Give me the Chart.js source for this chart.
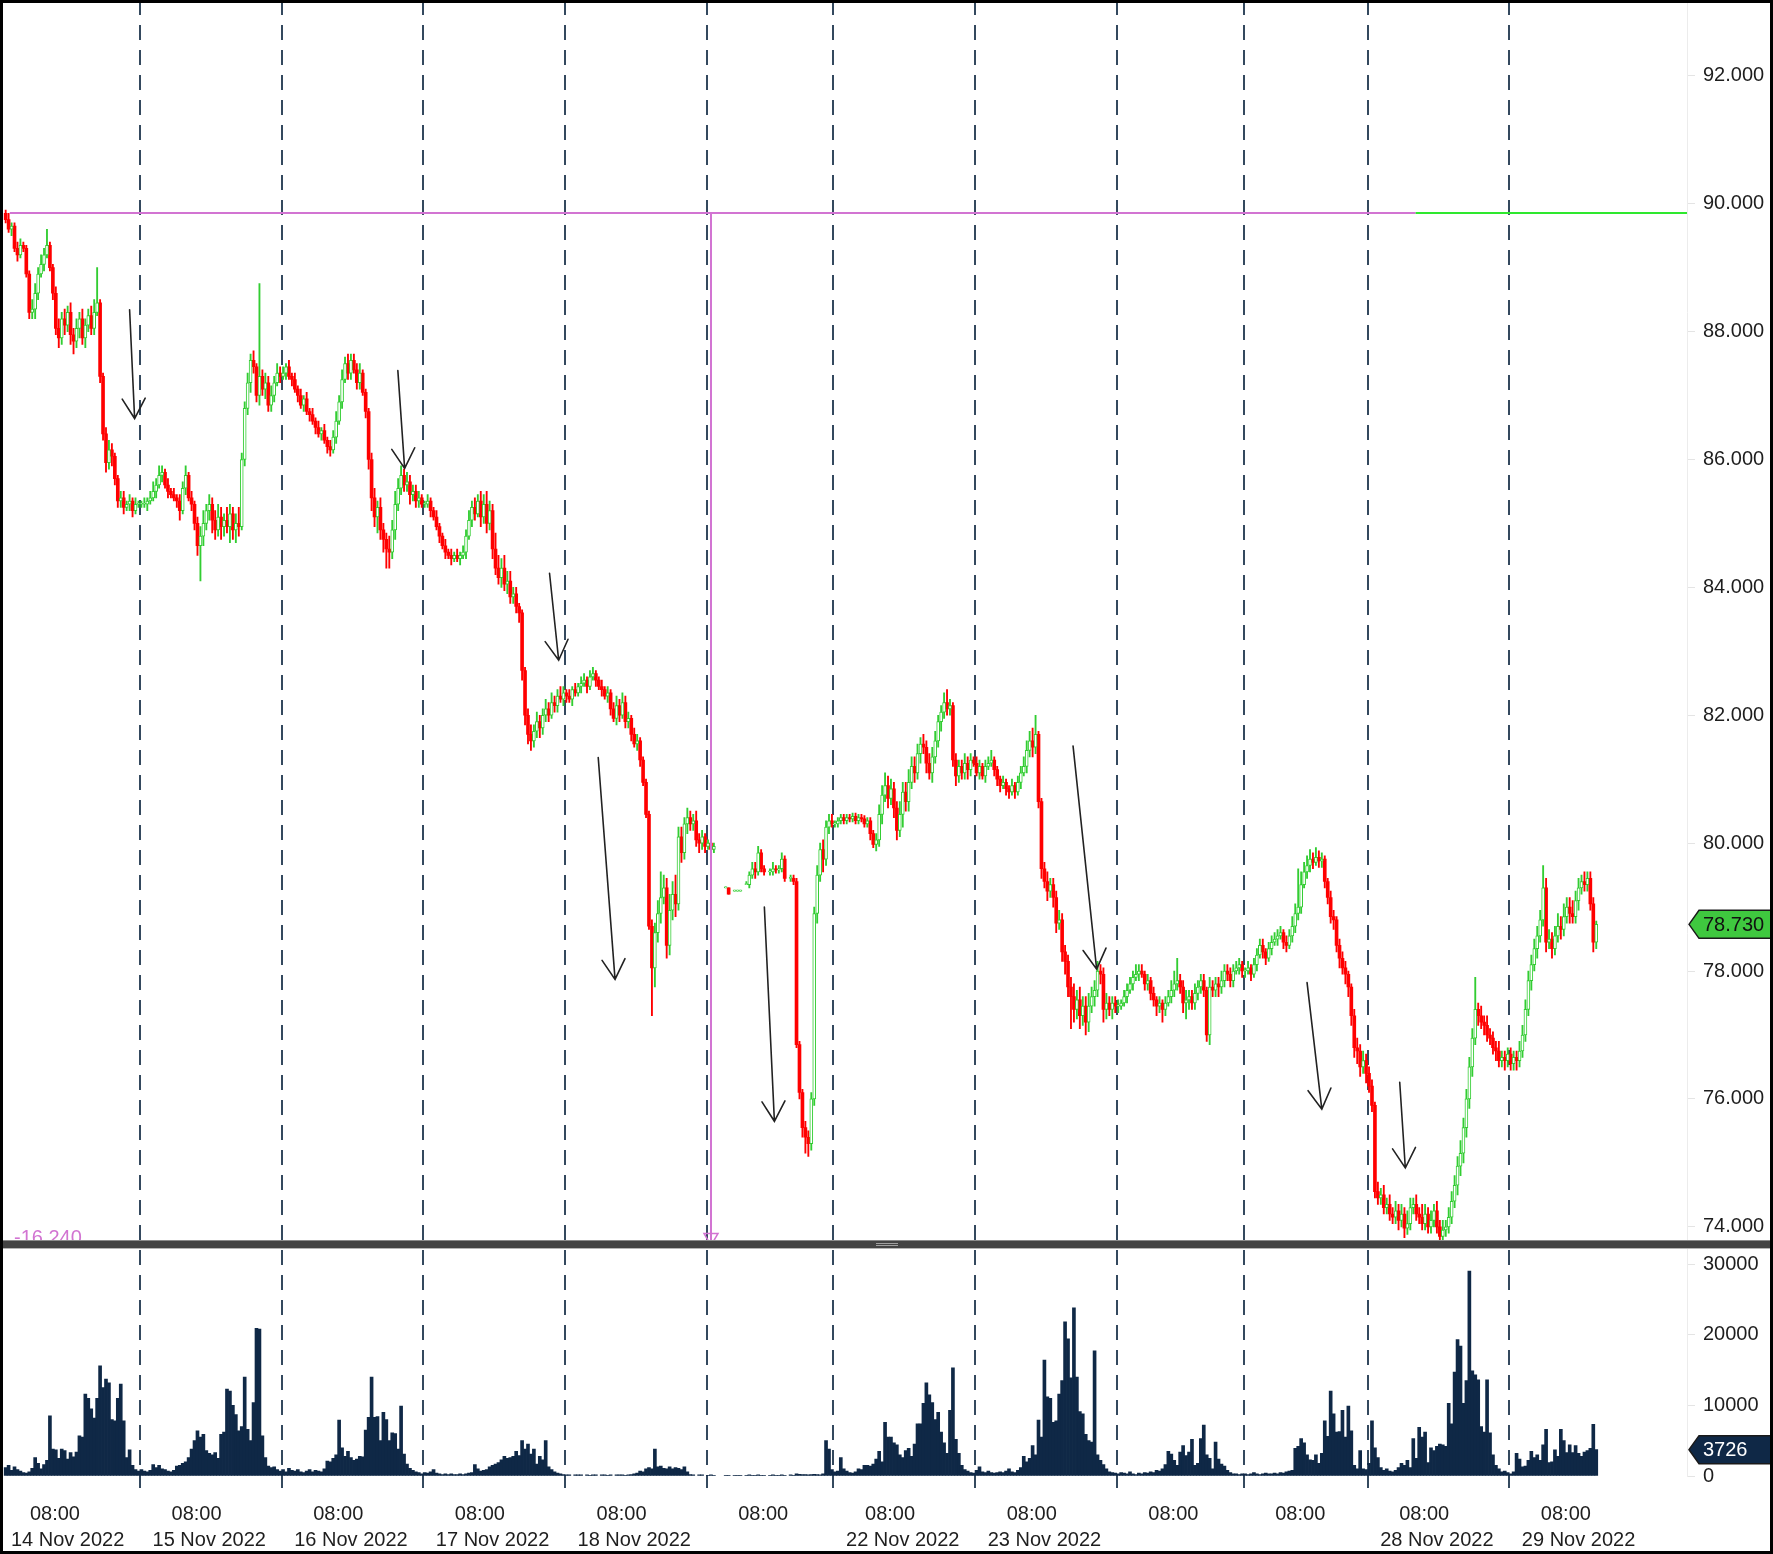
<!DOCTYPE html>
<html>
<head>
<meta charset="utf-8">
<script src="https://cdn.jsdelivr.net/npm/chart.js@4.4.1/dist/chart.umd.min.js"></script>
<style>
html,body{margin:0;padding:0;background:#fff;}
#wrap{width:1773px;height:1554px;position:relative;overflow:hidden;}
canvas{display:block;}
</style>
</head>
<body>
<div id="wrap"><canvas id="c" width="1773" height="1554"></canvas></div>
<script>
// ---------------- DATA (30-minute bars) ----------------
const dayBarCounts  = [48, 48, 48, 48, 48, 43, 48, 48, 43, 42, 48, 30];
const dayTimeLabels = ['08:00','08:00','08:00','08:00','08:00','08:00','08:00','08:00','08:00','08:00','08:00','08:00'];
const dayDateLabels = ['14 Nov 2022','15 Nov 2022','16 Nov 2022','17 Nov 2022','18 Nov 2022','','22 Nov 2022','23 Nov 2022','','','28 Nov 2022','29 Nov 2022'];
const priceTicks  = [74, 76, 78, 80, 82, 84, 86, 88, 90, 92];
const volumeTicks = [0, 10000, 20000, 30000];
const firstOpen = 89.85;
const WICK_STEP = 0.05; // wick lengths below are in steps of 0.05

const closes = [
// 14 Nov
null,null,89.75,89.6,89.65,89.3,89.2,89.35,89.3,88.9,88.3,88.35,88.6,88.9,89.05,89.2,89.35,89.0,88.6,88.05,87.9,88.2,88.1,88.3,87.95,87.85,88.05,88.2,87.9,88.1,88.25,88.05,88.3,88.45,87.3,86.4,85.95,86.15,86.05,85.7,85.35,85.4,85.25,85.3,85.35,85.2,85.3,85.3,
// 15 Nov
85.3,85.3,85.35,85.4,85.5,85.6,85.75,85.8,85.6,85.5,85.45,85.4,85.35,85.2,85.55,85.75,85.4,85.3,85.0,84.65,84.8,85.0,85.2,85.3,85.05,84.9,85.1,84.95,85.05,84.95,85.15,84.9,85.0,84.95,86.0,86.8,87.2,87.55,87.45,87.0,87.3,87.1,87.2,86.85,87.0,87.2,87.35,87.3,
// 16 Nov
87.35,87.45,87.3,87.25,87.1,87.0,86.85,86.95,86.75,86.7,86.6,86.5,86.4,86.45,86.3,86.2,86.15,86.35,86.6,86.9,87.25,87.5,87.35,87.55,87.4,87.2,87.35,87.05,86.75,86.0,85.4,85.1,85.25,84.9,84.75,84.6,84.55,84.9,85.3,85.55,85.75,85.6,85.65,85.45,85.5,85.35,85.4,85.3,
// 17 Nov
85.3,85.35,85.2,85.1,84.95,84.8,84.65,84.55,84.5,84.45,84.5,84.45,84.5,84.55,84.8,85.05,85.25,85.15,85.35,85.1,85.3,85.0,85.2,84.6,84.3,84.15,84.3,84.05,84.1,83.85,83.9,83.7,83.6,82.7,82.0,81.7,81.6,81.75,81.9,81.8,82.0,82.1,82.0,82.2,82.15,82.3,82.25,82.35,
// 18 Nov
82.3,82.25,82.4,82.35,82.45,82.5,82.55,82.45,82.6,82.65,82.55,82.45,82.4,82.3,82.35,82.1,81.95,82.15,82.0,82.2,81.9,81.95,81.7,81.55,81.6,81.3,80.95,80.45,78.7,78.05,78.6,78.9,79.15,79.3,78.4,78.95,79.2,79.05,80.1,79.85,80.3,80.4,80.3,80.35,80.05,80.0,80.1,79.95,
// 21 Nov
80.0,79.9,79.95,null,null,null,79.3,79.2,null,79.25,79.25,79.25,null,79.35,79.5,79.6,79.55,79.85,79.6,79.55,null,79.55,79.6,79.58,79.6,79.75,79.45,null,79.45,79.4,76.85,76.1,75.55,75.4,75.3,76.0,78.9,79.5,79.9,79.75,80.25,80.35,80.3,
// 22 Nov
80.3,80.35,80.4,80.35,80.4,80.38,80.42,80.35,80.4,80.38,80.3,80.35,80.15,79.98,80.05,80.45,80.75,80.9,80.7,80.85,80.55,80.2,80.45,80.8,80.65,80.95,81.2,81.1,81.4,81.55,81.5,81.25,81.1,81.35,81.6,81.9,82.05,82.2,82.1,82.15,81.3,81.05,81.2,81.1,81.25,81.15,81.3,81.25,
// 23 Nov
81.1,81.2,81.05,81.2,81.25,81.3,81.15,81.0,80.9,80.95,80.85,80.8,80.9,80.8,80.95,81.1,81.2,81.45,81.6,81.5,81.7,80.65,79.6,79.4,79.25,79.35,79.15,78.75,78.8,78.3,78.15,77.75,77.6,77.4,77.55,77.3,77.45,77.2,77.45,77.6,77.7,78.0,77.95,77.4,77.5,77.4,77.5,77.45,
// 24 Nov
77.45,77.5,77.6,77.7,77.8,77.9,77.95,78.0,77.95,77.8,77.85,77.65,77.55,77.45,77.5,77.4,77.5,77.6,77.7,77.8,77.85,77.75,77.5,77.55,77.6,77.5,77.65,77.75,77.85,77.7,77.0,77.75,77.7,77.8,77.75,77.85,78.0,77.95,77.85,78.0,78.05,78.1,78.0,
// 25 Nov
78.0,78.05,77.95,78.1,78.25,78.4,78.3,78.2,78.35,78.45,78.5,78.55,78.6,78.45,78.4,78.55,78.7,78.9,79.0,79.35,79.55,79.65,79.75,79.7,79.78,79.72,79.75,79.4,79.15,78.85,78.8,78.4,78.2,78.05,77.95,77.75,77.3,76.8,76.75,76.5,76.6,76.4,
// 28 Nov
76.2,75.9,74.55,74.45,74.5,74.3,74.35,74.2,74.15,74.25,74.1,74.2,73.98,74.05,74.3,74.35,74.2,74.15,74.05,74.2,74.0,74.1,74.25,74.0,73.85,73.95,74.0,74.15,74.4,74.65,74.95,75.15,75.55,76.0,76.5,76.95,77.4,77.3,77.2,77.15,77.0,76.95,76.8,76.75,76.6,76.65,76.6,76.7,
// 29 Nov
76.55,76.65,76.6,76.75,77.0,77.4,77.85,78.1,78.35,78.55,78.8,79.3,78.45,78.5,78.35,78.55,78.7,78.65,78.85,79.0,78.9,78.85,79.1,79.3,79.4,79.35,79.45,79.05,78.45,78.73
];

const upperWicks = [
0,0,1,2,1,1,2,2,1,1,1,3,3,2,3,2,5,1,1,2,3,2,3,2,3,2,3,2,3,2,2,3,4,11,1,1,2,3,2,1,1,2,2,1,2,1,2,1,
1,2,1,2,3,2,3,2,1,2,1,2,1,2,2,3,1,2,1,2,3,4,2,3,2,3,4,3,2,4,3,2,3,5,2,2,3,2,3,1,29,2,3,2,3,2,3,2,
2,1,2,1,2,1,2,1,2,1,2,1,2,1,2,1,2,2,3,2,3,2,3,2,2,2,3,1,1,1,2,3,2,3,2,2,4,3,4,3,3,2,3,2,2,2,2,1,
1,2,1,1,2,1,1,2,1,2,1,2,1,2,2,3,2,3,2,3,3,4,3,2,5,4,3,4,3,3,2,2,1,1,1,2,3,2,3,2,2,3,2,3,2,2,3,2,
1,2,1,2,1,2,2,1,2,2,1,1,2,1,2,1,2,3,2,3,2,2,1,2,2,1,1,1,1,2,3,4,8,4,3,5,4,6,3,3,2,3,2,2,3,2,2,1,
1,1,1,0,0,0,0,0,0,0,0,0,0,1,1,2,2,2,1,1,0,1,2,1,1,2,1,0,1,1,1,1,1,2,2,2,2,3,2,3,2,2,2,
1,1,1,1,1,1,1,1,1,1,1,1,1,1,2,3,3,4,3,3,2,2,4,3,3,4,3,3,3,2,3,2,3,3,3,2,2,3,4,2,1,2,2,2,3,2,2,1,
2,2,1,2,2,3,1,1,1,2,1,1,2,1,2,2,3,3,3,4,6,1,1,2,3,2,2,2,3,2,2,2,3,4,3,4,3,3,4,3,3,3,2,2,3,2,2,2,
2,1,2,2,2,2,3,2,2,1,2,1,2,1,2,1,2,2,3,4,7,2,2,3,2,2,3,2,2,2,1,3,2,2,2,3,2,2,2,2,2,2,1,
1,2,1,2,2,2,2,1,2,2,2,2,2,1,2,2,3,3,12,4,3,3,3,2,3,2,2,1,1,2,2,1,2,2,2,1,1,2,3,2,3,2,
2,2,1,3,2,3,2,3,2,3,2,3,2,4,3,2,3,2,4,3,2,3,2,3,2,3,2,3,3,3,3,4,3,3,3,3,10,2,3,2,3,2,2,2,3,2,2,2,
2,2,2,3,3,3,3,3,3,3,3,7,3,3,2,3,4,3,4,3,3,4,3,3,2,3,2,2,2,1
];

const lowerWicks = [
0,0,1,1,2,1,2,1,1,1,2,2,3,2,1,2,1,1,2,2,3,2,3,2,3,4,2,3,2,3,2,2,2,1,2,2,3,2,3,2,2,2,2,1,2,2,1,1,
1,1,2,1,1,2,1,2,1,2,1,1,2,3,1,2,1,2,2,3,11,3,2,3,4,3,2,4,3,2,5,3,4,3,1,2,2,3,2,2,3,2,3,2,2,2,1,2,
1,2,1,2,1,2,1,2,1,2,1,2,1,2,1,2,2,1,2,1,2,1,2,2,1,2,2,1,2,3,4,3,5,3,4,6,5,2,3,2,2,2,2,3,2,2,2,1,
1,1,2,1,1,2,1,2,1,2,1,1,2,1,2,1,2,2,1,3,2,3,2,3,2,2,3,2,3,2,2,2,3,3,3,3,3,2,2,3,2,2,2,1,2,2,1,2,
2,1,2,1,1,2,1,2,1,1,2,1,2,1,2,2,1,2,2,1,2,2,2,1,2,2,1,1,1,15,6,3,3,2,4,3,3,4,2,3,2,3,2,2,2,3,2,2,
1,1,1,0,0,0,0,0,0,0,0,0,0,0,1,1,2,1,1,1,0,1,1,1,1,1,1,0,1,1,1,2,3,5,4,2,2,3,2,4,2,2,1,
1,1,1,1,1,1,1,1,1,1,1,1,2,1,2,2,3,2,3,2,3,3,2,4,3,3,2,3,2,3,2,3,2,3,2,2,3,2,2,2,2,3,2,2,2,3,2,1,
1,2,1,2,1,1,2,2,2,1,2,2,1,2,1,2,1,2,2,3,2,2,3,2,3,2,3,3,2,3,4,3,10,4,3,4,3,4,3,2,3,2,3,4,3,2,3,2,
2,1,1,2,1,2,1,2,1,2,2,2,2,3,2,4,2,1,2,2,2,2,3,5,3,2,2,2,2,2,2,3,2,2,3,2,2,2,2,2,1,2,2,
2,1,2,1,2,1,2,2,1,2,1,2,1,2,2,1,2,2,2,2,1,2,2,2,1,2,2,2,2,2,3,2,3,2,3,3,3,3,4,3,2,3,
2,2,2,2,2,2,2,2,2,2,3,2,3,2,2,2,2,2,2,2,2,2,2,2,2,2,2,2,2,2,3,3,3,3,3,3,2,3,2,3,2,2,2,3,2,2,3,2,
2,2,3,2,2,2,2,3,2,3,2,2,3,2,3,2,2,3,2,2,3,2,2,3,2,2,2,2,3,2
];

const volumes = [
// 14 Nov
0,0,1200,1500,800,1300,900,700,500,400,600,1100,2600,1800,1000,1600,2200,8500,3800,3700,2500,3800,3600,2400,3300,2700,3400,5700,5500,11600,11000,9500,8200,11000,15600,12500,13700,13200,8000,7800,11000,13000,7800,2600,3700,1500,900,700,
// 15 Nov
900,700,600,800,1600,1200,1500,1000,900,700,600,800,1400,1500,1800,2000,2600,3800,5000,6400,5500,5900,3600,3200,3000,3300,2500,5900,6200,12300,12000,10000,8700,6400,7000,14000,6600,5000,10400,20900,20800,5700,2600,1400,1200,1300,900,700,
// 16 Nov
900,600,1100,800,700,900,600,500,700,900,600,800,700,600,1000,2100,2000,2500,3000,7900,4000,2800,3500,2600,2200,2400,2800,2700,6500,8300,14000,8300,8400,5000,9000,8000,5000,6100,6000,3800,9900,3100,1700,1100,800,600,500,300,
// 17 Nov
500,400,600,900,400,300,200,300,200,300,200,200,300,200,300,400,500,1600,1000,700,800,900,1300,1500,1700,1900,2300,2800,2500,2600,2800,3500,2900,5000,3800,4500,3100,3800,1700,2800,2300,5000,1300,900,600,400,300,200,
// 18 Nov
150,150,0,150,150,150,0,150,100,150,150,0,150,150,100,150,0,150,150,150,100,150,200,300,400,700,600,1000,1200,1000,3800,1300,1400,1100,1000,1300,1000,1200,1100,900,1300,600,200,150,0,150,150,0,
// 21 Nov
100,150,100,0,0,0,100,100,0,100,100,100,0,100,150,100,100,150,100,100,0,100,150,100,100,150,100,0,150,100,300,250,200,200,150,200,250,200,150,300,5000,3800,900,
// 22 Nov
600,700,2600,1000,700,500,400,600,1000,900,1500,1500,1400,1700,2400,3500,2000,7600,5500,5500,4700,4400,3000,2600,3600,3900,2800,4500,7400,7400,10300,13200,11500,10400,8000,9000,6200,4700,3200,9300,15300,5200,3200,1500,900,700,500,400,
// 23 Nov
800,1300,600,500,700,500,400,500,600,500,700,1000,600,500,800,1200,2800,2000,2500,4300,3000,7900,5500,16400,11200,11000,7600,7800,11600,13500,21800,19400,13900,23800,14000,9100,8800,5900,5000,4800,17700,3000,2200,1600,1000,600,500,400,
// 24 Nov
300,500,400,300,600,300,200,400,300,500,400,600,500,800,700,1000,1600,3500,3100,2200,1500,3400,4300,2900,3400,5200,1500,1800,5300,7200,3000,2500,1000,4800,2400,1700,1400,800,500,300,300,200,300,
// 25 Nov
300,200,300,500,300,200,300,400,300,300,400,300,500,400,600,700,800,3900,4200,5300,4700,3000,2300,2200,3000,1800,3200,7800,5600,12000,8800,6200,6300,9300,5500,9900,6400,1500,1000,3600,1000,900,
// 28 Nov
1800,7800,4000,2600,1200,800,1000,700,600,800,1200,1800,1500,2200,1200,5300,2500,6900,5500,6200,1900,4000,3600,4200,4500,4400,4200,10300,7400,14700,19300,18400,10300,13500,29000,14900,14300,13600,7000,6200,13600,6100,3000,1500,1000,600,700,500,
// 29 Nov
300,600,3200,2400,1300,1400,2200,3500,2600,3000,2200,4400,6600,1900,2000,3700,2800,6600,5000,3300,4400,3300,4300,3200,2800,3400,3600,3900,7300,3726
];

// annotation data (bar index, price)
const levelPrice = 89.86;         // horizontal level line
const levelStartIdx = 3.4;
const levelColorSwitchIdx = 479.8;
const measureIdx = 241.1;         // vertical measure line
const measuredMove = -16.24;
const arrowSegments = [
  [44.0, 88.34, 45.7, 86.64],
  [134.9, 87.39, 137.2, 85.86],
  [186.3, 84.22, 189.4, 82.86],
  [202.8, 81.34, 208.5, 77.87],
  [259.1, 79.00, 262.5, 75.65],
  [363.7, 81.52, 371.7, 78.03],
  [443.0, 77.82, 448.0, 75.84],
  [474.4, 76.26, 476.3, 74.92]
];

// ---------------- BUILD ----------------
const FONT = '"Liberation Sans", Arial, Helvetica, sans-serif';
const C_UP = '#32cd32', C_DN = '#ff0000', C_VOL = '#0f2846', C_SEP = '#34495e',
      C_MAG = '#d274d2', C_LIME = '#2ee82e', C_TXT = '#1e1e1e';

const dayStarts = [];
{ let acc = 0; dayBarCounts.forEach(n => { dayStarts.push(acc); acc += n; }); }
const separators  = dayStarts.slice(1).map(s => s - 0.5);
const timeTickPos = dayStarts.map(s => s + 18.7);
const dateTicks   = dayStarts.map((s, d) => ({value: s + 23, label: dayDateLabels[d]})).filter(t => t.label);

const bodyUp = [], bodyDn = [], wickUp = [], wickDn = [], volData = [];
let prevClose = null, started = false, lastIdx = 0;
closes.forEach((c, i) => {
  if (volumes[i]) volData.push({x: i, y: volumes[i]});
  if (c === null) { if (started) prevClose = null; return; }
  const o = !started ? firstOpen : (prevClose === null ? c : prevClose);
  started = true;
  const hi = Math.max(o, c) + upperWicks[i] * WICK_STEP;
  const lo = Math.min(o, c) - lowerWicks[i] * WICK_STEP;
  const isUp = c >= o;
  (isUp ? bodyUp : bodyDn).push({x: i, y: [o, c]});
  (isUp ? wickUp : wickDn).push({x: i, y: [lo, hi]});
  prevClose = c; lastIdx = i;
});
const lastClose = closes[lastIdx];
const lastVolume = volumes[volumes.length - 1];

const xMin = 0.76, xMax = 571.75;
const tickFont = {family: FONT, size: 20, lineHeight: 1.3};
const fitRightAxis = s => { s.width = 86; s.paddingTop = 0; s.paddingBottom = 0; };

const overlay = {
  id: 'overlay',
  beforeDatasetsDraw(chart) {
    const {ctx, chartArea: ca} = chart;
    const x = chart.scales.x;
    ctx.save();
    ctx.strokeStyle = C_SEP; ctx.lineWidth = 2; ctx.setLineDash([15, 10]);
    separators.forEach(v => {
      const px = Math.round(x.getPixelForValue(v));
      ctx.beginPath(); ctx.moveTo(px, 0); ctx.lineTo(px, ca.bottom + 12); ctx.stroke();
    });
    ctx.restore();
  },
  afterDatasetsDraw(chart) {
    const {ctx, chartArea: ca} = chart;
    const x = chart.scales.x, y = chart.scales.y;
    ctx.save();
    ctx.beginPath(); ctx.rect(ca.left, y.top, ca.right - ca.left, y.bottom - y.top); ctx.clip();
    const yl = Math.round(y.getPixelForValue(levelPrice));
    const xs = x.getPixelForValue(levelStartIdx), xw = x.getPixelForValue(levelColorSwitchIdx);
    ctx.lineWidth = 2;
    ctx.strokeStyle = C_MAG;
    ctx.beginPath(); ctx.moveTo(xs, yl); ctx.lineTo(xw, yl); ctx.stroke();
    ctx.strokeStyle = C_LIME;
    ctx.beginPath(); ctx.moveTo(xw, yl); ctx.lineTo(ca.right, yl); ctx.stroke();
    const xm = Math.round(x.getPixelForValue(measureIdx));
    const ye = y.getPixelForValue(levelPrice + measuredMove);
    ctx.strokeStyle = C_MAG;
    ctx.beginPath(); ctx.moveTo(xm, yl); ctx.lineTo(xm, ye); ctx.stroke();
    // end marker
    const tt = y.bottom - 10;
    ctx.lineWidth = 1.5;
    ctx.beginPath(); ctx.moveTo(xm - 7, tt); ctx.lineTo(xm + 7, tt); ctx.lineTo(xm, tt + 12); ctx.closePath(); ctx.stroke();
    // measure text
    ctx.fillStyle = C_MAG; ctx.font = '20px ' + FONT; ctx.textBaseline = 'top'; ctx.textAlign = 'left';
    ctx.fillText(measuredMove.toFixed(3), ca.left + 12, y.bottom - 15);
    // arrows
    ctx.strokeStyle = '#222'; ctx.lineWidth = 1.6; ctx.lineCap = 'round';
    arrowSegments.forEach(([i0, p0, i1, p1]) => {
      const x0 = x.getPixelForValue(i0), y0 = y.getPixelForValue(p0);
      const x1 = x.getPixelForValue(i1), y1 = y.getPixelForValue(p1);
      const a = Math.atan2(y0 - y1, x0 - x1), L = 23, h = Math.PI / 6;
      ctx.beginPath();
      ctx.moveTo(x0, y0); ctx.lineTo(x1, y1);
      ctx.moveTo(x1 + L * Math.cos(a + h), y1 + L * Math.sin(a + h));
      ctx.lineTo(x1, y1);
      ctx.lineTo(x1 + L * Math.cos(a - h), y1 + L * Math.sin(a - h));
      ctx.stroke();
    });
    ctx.restore();
  },
  afterDraw(chart) {
    const {ctx, chartArea: ca, width: W, height: H} = chart;
    const y = chart.scales.y, yv = chart.scales.yv;
    ctx.save();
    // panel divider
    const dt = Math.round(y.bottom) - 4;
    ctx.fillStyle = '#434343'; ctx.fillRect(0, dt, W, 9);
    ctx.fillStyle = '#8a8a8a'; ctx.fillRect(0, dt, W, 1);
    ctx.fillStyle = '#b4b4b4'; ctx.fillRect(0, dt + 8, W, 1);
    ctx.fillStyle = '#a0a0a0'; ctx.fillRect(876, dt + 3, 22, 1); ctx.fillRect(876, dt + 5, 22, 1);
    // value tags
    const tag = (yc, fill, txtColor, text) => {
      const l = ca.right + 2;
      ctx.beginPath();
      ctx.moveTo(l, yc); ctx.lineTo(l + 10, yc - 14); ctx.lineTo(W, yc - 14);
      ctx.lineTo(W, yc + 14); ctx.lineTo(l + 10, yc + 14); ctx.closePath();
      ctx.fillStyle = fill; ctx.fill();
      ctx.strokeStyle = '#1a1a1a'; ctx.lineWidth = 1.5; ctx.stroke();
      ctx.fillStyle = txtColor; ctx.font = '20px ' + FONT; ctx.textAlign = 'left'; ctx.textBaseline = 'middle';
      ctx.fillText(text, ca.right + 16, yc + 1);
    };
    tag(y.getPixelForValue(lastClose), '#3fc83f', '#111', lastClose.toFixed(3));
    tag(yv.getPixelForValue(lastVolume), '#0f2846', '#fff', String(lastVolume));
    // outer frame
    ctx.strokeStyle = '#000'; ctx.lineWidth = 3; ctx.strokeRect(1.5, 1.5, W - 3, H - 3);
    ctx.restore();
  }
};

const common = {grouped: false, borderSkipped: false, minBarLength: 1, xAxisID: 'x', yAxisID: 'y'};

new Chart(document.getElementById('c'), {
  type: 'bar',
  data: {
    datasets: [
      {...common, data: wickUp, backgroundColor: C_UP, barThickness: 1.2, borderWidth: 0, order: 4},
      {...common, data: wickDn, backgroundColor: C_DN, barThickness: 1.2, borderWidth: 0, order: 4},
      {...common, data: bodyUp, backgroundColor: '#ffffff', borderColor: C_UP, borderWidth: 1, barThickness: 3, order: 1},
      {...common, data: bodyDn, backgroundColor: C_DN, borderColor: C_DN, borderWidth: 0, barThickness: 3, order: 1},
      {grouped: false, data: volData, backgroundColor: C_VOL, borderWidth: 0, barThickness: 3, xAxisID: 'x', yAxisID: 'yv', order: 2}
    ]
  },
  options: {
    responsive: false, animation: false, devicePixelRatio: 1, events: [],
    layout: {padding: {left: 2, top: 2, right: 0, bottom: 0}},
    plugins: {legend: {display: false}, tooltip: {enabled: false}},
    scales: {
      x: {
        type: 'linear', position: 'bottom', min: xMin, max: xMax, offset: false,
        grid: {display: false, drawTicks: false}, border: {display: false},
        afterBuildTicks: s => { s.ticks = timeTickPos.map(v => ({value: v})); },
        afterFit: s => { s.height = 48; },
        ticks: {autoSkip: false, maxRotation: 0, minRotation: 0, padding: 25, color: C_TXT, font: tickFont,
                callback: (v, i) => dayTimeLabels[i]}
      },
      x2: {
        type: 'linear', position: 'bottom', min: xMin, max: xMax, offset: false,
        grid: {display: false, drawTicks: false}, border: {display: false},
        afterBuildTicks: s => { s.ticks = dateTicks.map(t => ({value: t.value})); },
        afterFit: s => { s.height = 30; },
        ticks: {autoSkip: false, maxRotation: 0, minRotation: 0, padding: 3, color: C_TXT, font: tickFont,
                callback: (v, i) => dateTicks[i].label}
      },
      y: {
        type: 'linear', position: 'right', stack: 'panes', stackWeight: 1241.5,
        min: 73.739, max: 93.154, beginAtZero: false,
        afterBuildTicks: s => { s.ticks = priceTicks.map(v => ({value: v})); },
        afterFit: fitRightAxis,
        grid: {drawOnChartArea: false, drawTicks: true, tickLength: 8, color: '#e4e4e4'},
        border: {display: true, color: '#ececec'},
        ticks: {padding: 8, color: C_TXT, font: tickFont, callback: v => v.toFixed(3)}
      },
      yv: {
        type: 'linear', position: 'right', stack: 'panes', stackWeight: 232.5,
        min: 0, max: 32901, beginAtZero: true,
        afterBuildTicks: s => { s.ticks = volumeTicks.map(v => ({value: v})); },
        afterFit: fitRightAxis,
        grid: {drawOnChartArea: false, drawTicks: true, tickLength: 8, color: '#e4e4e4'},
        border: {display: true, color: '#ececec'},
        ticks: {padding: 8, color: C_TXT, font: tickFont, callback: v => String(v)}
      }
    }
  },
  plugins: [overlay]
});
</script>
</body>
</html>
